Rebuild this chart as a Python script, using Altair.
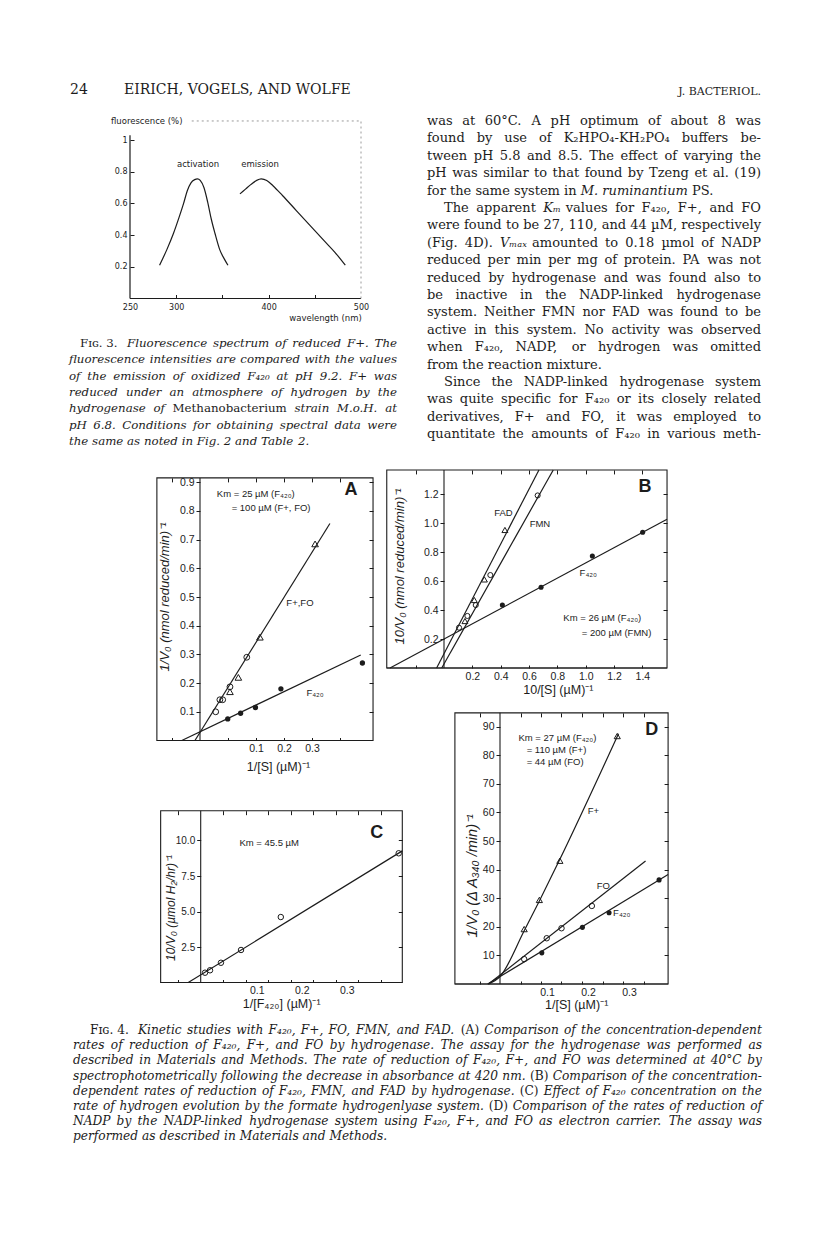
import altair as alt
import pandas as pd

# ---------------- layout constants ----------------
W, H = 800, 1215          # canvas (page minus 8px margins)
OX, OY = 8, 8             # page margin
INK = "#1c1c1c"
SERIF = "DejaVu Serif"
SANS = "Liberation Sans"
F3FONT = "DejaVu Sans"

# ---------------- data: page text ----------------
# a leading "*" marks a word set in the other style (italic in body, roman in captions)
page_number = "24"
running_head = "EIRICH, VOGELS, AND WOLFE"
journal_head = "J. BACTERIOL."

body_lines = [
    "was at 60°C. A pH optimum of about 8 was",
    "found by use of K₂HPO₄-KH₂PO₄ buffers be-",
    "tween pH 5.8 and 8.5. The effect of varying the",
    "pH was similar to that found by Tzeng et al. (19)",
    "for the same system in *M. *ruminantium PS.",
    "The apparent *Kₘ values for F₄₂₀, F+, and FO",
    "were found to be 27, 110, and 44 µM, respectively",
    "(Fig. 4D). *Vₘₐₓ amounted to 0.18 µmol of NADP",
    "reduced per min per mg of protein. PA was not",
    "reduced by hydrogenase and was found also to",
    "be inactive in the NADP-linked hydrogenase",
    "system. Neither FMN nor FAD was found to be",
    "active in this system. No activity was observed",
    "when F₄₂₀, NADP, or hydrogen was omitted",
    "from the reaction mixture.",
    "Since the NADP-linked hydrogenase system",
    "was quite specific for F₄₂₀ or its closely related",
    "derivatives, F+ and FO, it was employed to",
    "quantitate the amounts of F₄₂₀ in various meth-",
]
body_new_paragraph = [0, 0, 0, 0, 0, 1, 0, 0, 0, 0, 0, 0, 0, 0, 0, 1, 0, 0, 0]
body_paragraph_end = [0, 0, 0, 0, 1, 0, 0, 0, 0, 0, 0, 0, 0, 0, 1, 0, 0, 0, 0]

fig3_lead = "Fɪɢ. 3."
fig3_caption = [
    "Fluorescence spectrum of reduced F+. The",
    "fluorescence intensities are compared with the values",
    "of the emission of oxidized F₄₂₀ at pH 9.2. F+ was",
    "reduced under an atmosphere of hydrogen by the",
    "hydrogenase of *Methanobacterium strain M.o.H. at",
    "pH 6.8. Conditions for obtaining spectral data were",
    "the same as noted in Fig. 2 and Table 2.",
]
fig3_caption_end = [0, 0, 0, 0, 0, 0, 1]
fig4_lead = "Fɪɢ. 4."
fig4_caption = [
    "Kinetic studies with F₄₂₀, F+, FO, FMN, and FAD. *(A) Comparison of the concentration-dependent",
    "rates of reduction of F₄₂₀, F+, and FO by hydrogenase. The assay for the hydrogenase was performed as",
    "described in Materials and Methods. The rate of reduction of F₄₂₀, F+, and FO was determined at 40°C by",
    "spectrophotometrically following the decrease in absorbance at 420 nm. *(B) Comparison of the concentration-",
    "dependent rates of reduction of F₄₂₀, FMN, and FAD by hydrogenase. *(C) Effect of F₄₂₀ concentration on the",
    "rate of hydrogen evolution by the formate hydrogenlyase system. *(D) Comparison of the rates of reduction of",
    "NADP by the NADP-linked hydrogenase system using F₄₂₀, F+, and FO as electron carrier. The assay was",
    "performed as described in Materials and Methods.",
]
fig4_caption_end = [0, 0, 0, 0, 0, 0, 0, 1]

# ---------------- data: Fig. 3 ----------------
act_wl = [282, 290, 297, 303, 308, 312, 316, 320, 323, 326, 330, 334, 338, 342, 347, 352, 356]
act_f = [0.21, 0.31, 0.41, 0.51, 0.60, 0.68, 0.73, 0.75, 0.755, 0.745, 0.70, 0.61, 0.50, 0.41, 0.31, 0.25, 0.21]
em_wl = [369, 375, 381, 387, 392, 398, 405, 415, 430, 445, 460, 472, 483]
em_f = [0.66, 0.69, 0.72, 0.745, 0.755, 0.745, 0.71, 0.65, 0.555, 0.46, 0.365, 0.29, 0.21]
fig3_x_labels = [250, 300, 400, 500]
fig3_x_ticks = [300, 350, 400, 450]
fig3_y_ticks = [0.2, 0.4, 0.6, 0.8, 1.0]
fig3_y_top = 1.12
fig3_axis_top = 1.03
fig3_notes = ["activation", "emission"]
fig3_notes_x = [323.6, 390.7]
fig3_notes_y = [0.85, 0.85]

# ---------------- data: Fig. 4A ----------------
A_fp_circ_x = [0.056, 0.071, 0.081, 0.107, 0.167]
A_fp_circ_y = [0.10, 0.142, 0.142, 0.187, 0.29]
A_fp_tri_x = [0.107, 0.137, 0.214, 0.411]
A_fp_tri_y = [0.17, 0.22, 0.36, 0.685]
A_f420_x = [0.099, 0.145, 0.198, 0.289, 0.58]
A_f420_y = [0.075, 0.095, 0.115, 0.18, 0.27]
A_fit_fp_x, A_fit_fp_y = [-0.018, 0.464], [0.0, 0.756]
A_fit_f420_x, A_fit_f420_y = [-0.065, 0.574], [0.0, 0.298]
A_yticks = [0.1, 0.2, 0.3, 0.4, 0.5, 0.6, 0.7, 0.8, 0.9]
A_xticks = [-0.1, 0.1, 0.2, 0.3, 0.4, 0.5]
A_xlabels = [0.1, 0.2, 0.3]
A_km = ["Km = 25 µM (F₄₂₀)", "= 100 µM (F+, FO)"]
A_km_x, A_km_y = [0.06, 0.113], [0.858, 0.809]
A_series = ["F+,FO", "F₄₂₀"]
A_series_x, A_series_y = [0.357, 0.411], [0.478, 0.164]

# ---------------- data: Fig. 4B ----------------
B_f420_x = [0.412, 0.685, 1.047, 1.402]
B_f420_y = [0.434, 0.557, 0.772, 0.936]
B_fmn_x = [0.106, 0.165, 0.224, 0.327, 0.661]
B_fmn_y = [0.278, 0.359, 0.434, 0.641, 1.19]
B_fad_x = [0.148, 0.214, 0.285, 0.43]
B_fad_y = [0.324, 0.469, 0.611, 0.952]
B_fit_f420_x, B_fit_f420_y = [-0.381, 1.574], [0.0, 1.026]
B_fit_fad_x, B_fit_fad_y = [-0.052, 0.67], [0.0, 1.366]
B_fit_fmn_x, B_fit_fmn_y = [-0.016, 0.771], [0.0, 1.366]
B_yticks = [0.2, 0.4, 0.6, 0.8, 1.0, 1.2]
B_xticks = [-0.2, 0.2, 0.4, 0.6, 0.8, 1.0, 1.2, 1.4]
B_xlabels = [0.2, 0.4, 0.6, 0.8, 1.0, 1.2, 1.4]
B_km = ["Km = 26 µM (F₄₂₀)", "= 200 µM (FMN)"]
B_km_x, B_km_y = [0.842, 0.972], [0.343, 0.243]
B_series = ["FAD", "FMN", "F₄₂₀"]
B_series_x, B_series_y = [0.419, 0.677, 1.018], [1.066, 0.991, 0.653]

# ---------------- data: Fig. 4C ----------------
C_x = [0.0096, 0.0207, 0.045, 0.0896, 0.178, 0.44]
C_y = [0.69, 0.86, 1.39, 2.29, 4.61, 9.1]
C_fit_x, C_fit_y = [-0.0276, 0.448], [0.0, 9.27]
C_yticks = [2.5, 5.0, 7.5, 10.0]
C_xticks = [-0.05, 0.05, 0.1, 0.15, 0.2, 0.25, 0.3, 0.35, 0.4]
C_xlabels = [0.1, 0.2, 0.3]
C_km = ["Km = 45.5 µM"]
C_km_x, C_km_y = [0.086], [9.85]

# ---------------- data: Fig. 4D ----------------
D_fp_x = [0.059, 0.096, 0.146, 0.286]
D_fp_y = [19.2, 29.4, 43.1, 86.7]
D_fo_x = [0.059, 0.114, 0.15, 0.224]
D_fo_y = [8.7, 16.0, 19.5, 27.3]
D_f420_x = [0.102, 0.201, 0.266, 0.388]
D_f420_y = [10.9, 19.8, 24.9, 36.4]
D_fit_fp_x = [-0.028, 0.0, 0.059, 0.096, 0.146, 0.289]
D_fit_fp_y = [0.0, 2.6, 18.6, 29.0, 43.6, 87.5]
D_fit_fo_x, D_fit_fo_y = [-0.028, 0.355], [0.0, 43.0]
D_fit_f420_x, D_fit_f420_y = [-0.03, 0.41], [0.0, 38.3]
D_yticks = [10, 20, 30, 40, 50, 60, 70, 80, 90]
D_xticks = [-0.05, 0.05, 0.1, 0.15, 0.2, 0.25, 0.3, 0.35]
D_xlabels = [0.1, 0.2, 0.3]
D_km = ["Km = 27  µM (F₄₂₀)", "= 110  µM (F+)", "= 44  µM (FO)"]
D_km_x, D_km_y = [0.045, 0.065, 0.065], [86.1, 81.8, 77.5]
D_series = ["F+", "FO", "F₄₂₀"]
D_series_x, D_series_y = [0.228, 0.252, 0.297], [60.5, 34.4, 24.7]


# ---------------- helpers ----------------
def sx(px0, kx, v0=0.0):
    return alt.Scale(domain=[v0 + (OX - px0) / kx, v0 + (OX + W - px0) / kx], nice=False, zero=False)


def sy(py0, ky, v0=0.0):
    return alt.Scale(domain=[v0 + (py0 - OY - H) / ky, v0 + (py0 - OY) / ky], nice=False, zero=False)


def axis(orient, page_pos, values, labels=False, ticks=True, size=4, **kw):
    off = {"left": -(page_pos - OX), "right": -(OX + W - page_pos),
           "top": -(page_pos - OY), "bottom": -(OY + H - page_pos)}[orient]
    p = dict(orient=orient, offset=off, values=values, labels=labels, ticks=ticks,
             tickSize=size if ticks else 0, domain=False, grid=False, title=None,
             tickColor=INK, tickWidth=1, labelColor=INK, labelFont=SANS, labelFontSize=10.5,
             labelFlush=False, labelOverlap=False)
    p.update(kw)
    return alt.Axis(**p)


def X(field, sc, ax=None):
    return alt.X(field, type="quantitative", scale=sc, axis=ax)


def Y(field, sc, ax=None):
    return alt.Y(field, type="quantitative", scale=sc, axis=ax)


def lines(xlists, ylists, interp="linear"):
    rows = []
    for k, (xs, ys) in enumerate(zip(xlists, ylists)):
        for a, b in zip(xs, ys):
            rows.append({"x": a, "y": b, "s": k})
    df = pd.DataFrame(rows)

    def make(xsc, ysc):
        return alt.Chart(df).mark_line(color=INK, strokeWidth=1.2, interpolate=interp).encode(
            x=X("x", xsc), y=Y("y", ysc), detail="s:N")
    return make


def points(xs, ys, shape="circle", filled=False, size=30):
    df = pd.DataFrame({"x": xs, "y": ys})

    def make(xsc, ysc):
        return alt.Chart(df).mark_point(shape=shape, filled=filled, size=size, color=INK,
                                        strokeWidth=1, opacity=1).encode(x=X("x", xsc), y=Y("y", ysc))
    return make


def notes(texts, xs, ys, **kw):
    df = pd.DataFrame({"t": texts, "x": xs, "y": ys})
    style = dict(font=SANS, fontSize=9.5, align="left", baseline="middle", color=INK)
    style.update(kw)

    def make(xsc, ysc):
        return alt.Chart(df).mark_text(**style).encode(x=X("x", xsc), y=Y("y", ysc), text="t:N")
    return make


def page_text(lines_, page_x, page_y, line_h, **kw):
    n = len(lines_)
    df = pd.DataFrame({"t": lines_, "i": list(range(n))})
    style = dict(font=SERIF, fontSize=13, align="left", baseline="middle", color=INK)
    style.update(kw)
    return alt.Chart(df).transform_calculate(
        px=f"{page_x - OX}",
        py=f"{page_y - OY} + datum.i * {line_h}",
    ).mark_text(**style).encode(
        x=alt.X("px:Q", scale=None, axis=None),
        y=alt.Y("py:Q", scale=None, axis=None),
        text="t:N")


# approximate advance widths (em) of DejaVu Serif, used to justify text columns
_W = dict(zip("abcdefghijklmnopqrstuvwxyz",
              [.596, .640, .560, .640, .592, .370, .640, .644, .320, .310, .606, .320, .948,
               .644, .602, .640, .640, .478, .513, .402, .644, .565, .856, .564, .565, .527]))
_W.update(zip("ABCDEFGHIJKLMNOPQRSTUVWXYZ",
              [.722, .735, .765, .802, .730, .694, .799, .872, .395, .401, .747, .664, 1.024,
               .875, .820, .673, .820, .753, .685, .667, .843, .722, 1.028, .712, .660, .695]))
_W.update({c: .636 for c in "0123456789"})
_W.update({c: .40 for c in "₀₁₂₃₄₅₆₇₈₉ₘₐₓ"})
_W.update({".": .318, ",": .318, ":": .337, ";": .337, "-": .338, "(": .390, ")": .390,
           "/": .337, "+": .838, "°": .500, "µ": .644, "=": .838, "ɪ": .40, "ɢ": .55})
SPACE = .318


def word_w(w, fs):
    return sum(_W.get(c, .6) for c in w) * fs


def justified(lines_, ends, left, right, top, lh, fs, first_dx=None, indent=None):
    rows = []
    for i, line in enumerate(lines_):
        words = line.split(" ")
        x0 = left + (first_dx[i] if first_dx else 0)
        if indent and indent[i]:
            x0 = left + indent[i]
        clean = [w.lstrip("*") for w in words]
        widths = [word_w(w, fs) for w in clean]
        gap = SPACE * fs
        if not ends[i] and len(words) > 1:
            gap = (right - x0 - sum(widths)) / (len(words) - 1)
        x = x0
        for w, c, wd in zip(words, clean, widths):
            rows.append({"t": c, "px": x - OX, "py": top + i * lh - OY, "alt": w.startswith("*")})
            x += wd + gap
    return pd.DataFrame(rows)


def words_layer(df, fs, style_main, style_alt):
    out = []
    for flag, st in ((False, style_main), (True, style_alt)):
        sub = df[df["alt"] == flag]
        if len(sub) == 0:
            continue
        out.append(alt.Chart(sub).mark_text(font=SERIF, fontSize=fs, align="left", baseline="middle",
                                            color=INK, fontStyle=st).encode(
            x=alt.X("px:Q", scale=None, axis=None),
            y=alt.Y("py:Q", scale=None, axis=None),
            text="t:N"))
    return out


def fig4_panel(geo, frame, xticks, xlabels, xfmt, xoff, yticks, yfmt, content, ylab_size=10.5):
    px0, kx, py0, ky = geo
    xsc, ysc = sx(px0, kx), sy(py0, ky)
    x0, x1, y0, y1 = frame
    right = px0 + x1 * kx
    bottom = py0 - y0 * ky
    top = py0 - y1 * ky
    fdf = pd.DataFrame({"x0": [x0], "x1": [x1], "y0": [y0], "y1": [y1], "z": [0.0]})
    box = alt.Chart(fdf).mark_rect(fillOpacity=0, stroke=INK, strokeWidth=1.1).encode(
        x=X("x0", xsc, axis("bottom", bottom, xlabels, labels=True, ticks=False, format=xfmt,
                            labelOffset=xoff, labelPadding=3)),
        x2=alt.X2("x1"),
        y=Y("y0", ysc, axis("left", px0, yticks, labels=True, format=yfmt, labelPadding=2,
                            labelFontSize=ylab_size)),
        y2=alt.Y2("y1"))
    yline = alt.Chart(fdf).mark_rule(color=INK, strokeWidth=1.1).encode(
        x=X("z", xsc, axis("bottom", top, xticks, size=4)),
        y=Y("y0", ysc, axis("left", right, yticks, size=4)),
        y2=alt.Y2("y1"))
    base = alt.Chart(fdf).mark_rule(color=INK, strokeWidth=1.1).encode(
        x=X("x0", xsc, axis("top", bottom, xticks, size=3)),
        x2=alt.X2("x1"),
        y=Y("y0", ysc))
    layers = [box, yline, base] + [f(xsc, ysc) for f in content]
    return alt.layer(*layers).resolve_axis(x="independent", y="independent")


def TITLE(fs):
    return dict(font=SANS, fontSize=fs, fontStyle="italic", align="center", baseline="middle")


XTITLE = dict(font=SANS, fontSize=12.5, align="center", baseline="middle")
LETTER = dict(font=SANS, fontSize=18, fontWeight="bold", align="center", baseline="middle")
SER = dict(font=SANS, fontSize=9.5, align="center", baseline="middle")

# ---------------- Fig. 3 ----------------
g3 = dict(px0=130, kx=0.924, v0x=250, py0=298.5, ky=158.5)
x3 = sx(g3["px0"], g3["kx"], g3["v0x"])
y3 = sy(g3["py0"], g3["ky"])
f3_left = pd.DataFrame({"x": [250], "x2": [250], "y": [0.0], "y2": [fig3_axis_top]})
f3_bottom = pd.DataFrame({"x": [250], "x2": [500], "y": [0.0], "y2": [0.0]})
f3_dotted = pd.DataFrame({"x": [316.8, 500], "x2": [500, 500], "y": [fig3_y_top, 0.0],
                          "y2": [fig3_y_top, fig3_y_top]})
F3AX = dict(labelFont=F3FONT, labelFontSize=8)
fig3_left = alt.Chart(f3_left).mark_rule(color=INK, strokeWidth=1.2).encode(
    x=X("x", x3, axis("bottom", g3["py0"], fig3_x_labels, labels=True, ticks=False, format="d",
                      labelPadding=5, **F3AX)),
    x2=alt.X2("x2"),
    y=Y("y", y3, axis("left", g3["px0"], fig3_y_ticks, labels=True, ticks=False, labelPadding=3,
                      labelExpr="datum.value == 1 ? '1' : format(datum.value, '.1f')", **F3AX)),
    y2=alt.Y2("y2"))
fig3_bottom = alt.Chart(f3_bottom).mark_rule(color=INK, strokeWidth=1.2).encode(
    x=X("x", x3, axis("top", g3["py0"], fig3_x_ticks, size=4)),
    x2=alt.X2("x2"),
    y=Y("y", y3, axis("right", g3["px0"], fig3_y_ticks, size=4)),
    y2=alt.Y2("y2"))
fig3_dots = alt.Chart(f3_dotted).mark_rule(color="#9a9a9a", strokeWidth=1, strokeDash=[2, 3]).encode(
    x=X("x", x3), x2=alt.X2("x2"), y=Y("y", y3), y2=alt.Y2("y2"))
fig3_curves = lines([act_wl, em_wl], [act_f, em_f], interp="monotone")(x3, y3)
fig3_lbl = notes(fig3_notes, fig3_notes_x, fig3_notes_y, font=F3FONT, fontSize=8.5, align="center")(x3, y3)
fig3_ylab = notes(["fluorescence (%)"], [229.4], [fig3_y_top], font=F3FONT, fontSize=8.5)(x3, y3)
fig3_xlab = notes(["wavelength  (nm)"], [500.8], [-0.123], font=F3FONT, fontSize=8.5, align="right")(x3, y3)
fig3 = alt.layer(fig3_left, fig3_bottom, fig3_dots, fig3_curves, fig3_lbl, fig3_ylab, fig3_xlab).resolve_axis(
    x="independent", y="independent")

# ---------------- Fig. 4 panels ----------------
panelA = fig4_panel(
    (200, 280, 740.5, 287), (-0.154, 0.618, 0.0, 0.915),
    A_xticks, A_xlabels, ".1f", 28, A_yticks, ".1f",
    [lines([A_fit_fp_x, A_fit_f420_x], [A_fit_fp_y, A_fit_f420_y]),
     points(A_fp_circ_x, A_fp_circ_y, "circle", False, 34),
     points(A_fp_tri_x, A_fp_tri_y, "triangle-up", False, 44),
     points(A_f420_x, A_f420_y, "circle", True, 28),
     notes(A_km, A_km_x, A_km_y),
     notes(A_series, A_series_x, A_series_y, **SER),
     notes(["A"], [0.539], [0.873], **LETTER),
     notes(["1/V₀ (nmol reduced/min)⁻¹"], [-0.125], [0.50], angle=270, **TITLE(13)),
     notes(["1/[S]  (µM)⁻¹"], [0.28], [-0.091], **XTITLE)])

panelB = fig4_panel(
    (444, 141.7, 668, 145), (-0.404, 1.574, 0.0, 1.366),
    B_xticks, B_xlabels, ".1f", 0, B_yticks, ".1f",
    [lines([B_fit_f420_x, B_fit_fad_x, B_fit_fmn_x], [B_fit_f420_y, B_fit_fad_y, B_fit_fmn_y]),
     points(B_fmn_x, B_fmn_y, "circle", False, 26),
     points(B_fad_x, B_fad_y, "triangle-up", False, 36),
     points(B_f420_x, B_f420_y, "circle", True, 26),
     notes(B_km, B_km_x, B_km_y),
     notes(B_series, B_series_x, B_series_y, **SER),
     notes(["B"], [1.418], [1.25], **LETTER),
     notes(["10/V₀ (nmol reduced/min)⁻¹"], [-0.31], [0.70], angle=270, **TITLE(13)),
     notes(["10/[S] (µM)⁻¹"], [0.807], [-0.152], **XTITLE)])

panelC = fig4_panel(
    (200.7, 450, 982.5, 14.2), (-0.089, 0.448, 0.0, 12.1),
    C_xticks, C_xlabels, ".1f", 11, C_yticks, ".1f",
    [lines([C_fit_x], [C_fit_y]),
     points(C_x, C_y, "circle", False, 30),
     notes(C_km, C_km_x, C_km_y),
     notes(["C"], [0.391], [10.5], **LETTER),
     notes(["10/V₀ (µmol H₂/hr)⁻¹"], [-0.066], [5.25], angle=270, **TITLE(12)),
     notes(["1/[F₄₂₀] (µM)⁻¹"], [0.18], [-1.5], **XTITLE)],
    ylab_size=10)

panelD = fig4_panel(
    (500, 410, 984, 2.86), (-0.11, 0.41, 0.0, 94.8),
    D_xticks, D_xlabels, ".1f", 6, D_yticks, "d",
    [lines([D_fit_fo_x, D_fit_f420_x], [D_fit_fo_y, D_fit_f420_y]),
     lines([D_fit_fp_x], [D_fit_fp_y], interp="monotone"),
     points(D_fp_x, D_fp_y, "triangle-up", False, 38),
     points(D_fo_x, D_fo_y, "circle", False, 30),
     points(D_f420_x, D_f420_y, "circle", True, 26),
     notes(D_km, D_km_x, D_km_y),
     notes(D_series, D_series_x, D_series_y, **SER),
     notes(["D"], [0.37], [88.8], **LETTER),
     notes(["1/V₀  (Δ A₃₄₀ /min)⁻¹"], [-0.065], [37.8], angle=270, **TITLE(14.5)),
     notes(["1/[S]  (µM)⁻¹"], [0.187], [-7.3], **XTITLE)])

# ---------------- page text ----------------
head_num = page_text([page_number], 70, 90, 0, fontSize=14)
head_auth = page_text([running_head], 124, 90, 0, fontSize=14)
head_jour = page_text([journal_head], 761, 92, 0, fontSize=11, align="right")

body_df = justified(body_lines, body_paragraph_end, 427, 761, 121, 17.4, 13,
                    indent=[17 * f for f in body_new_paragraph])
body = words_layer(body_df, 13, "normal", "italic")

cap3_lead = page_text([fig3_lead], 80, 343, 0, fontSize=11.8)
cap3_df = justified(fig3_caption, fig3_caption_end, 69, 397, 343, 16.3, 11.8,
                    first_dx=[58] + [0] * 6)
cap3 = words_layer(cap3_df, 11.8, "italic", "normal")

cap4_lead = page_text([fig4_lead], 90, 1030, 0, fontSize=12.2)
cap4_df = justified(fig4_caption, fig4_caption_end, 73, 762, 1030, 15.2, 12.2,
                    first_dx=[65] + [0] * 7)
cap4 = words_layer(cap4_df, 12.2, "italic", "normal")

chart = alt.layer(
    head_num, head_auth, head_jour, *body, cap3_lead, *cap3, cap4_lead, *cap4,
    fig3, panelA, panelB, panelC, panelD,
).resolve_scale(x="independent", y="independent").properties(
    width=W, height=H, autosize=alt.AutoSizeParams(type="none"), padding=0, background="white"
).configure_view(stroke=None)

chart.save("out.html", embed_options={"renderer": "svg", "actions": False})
